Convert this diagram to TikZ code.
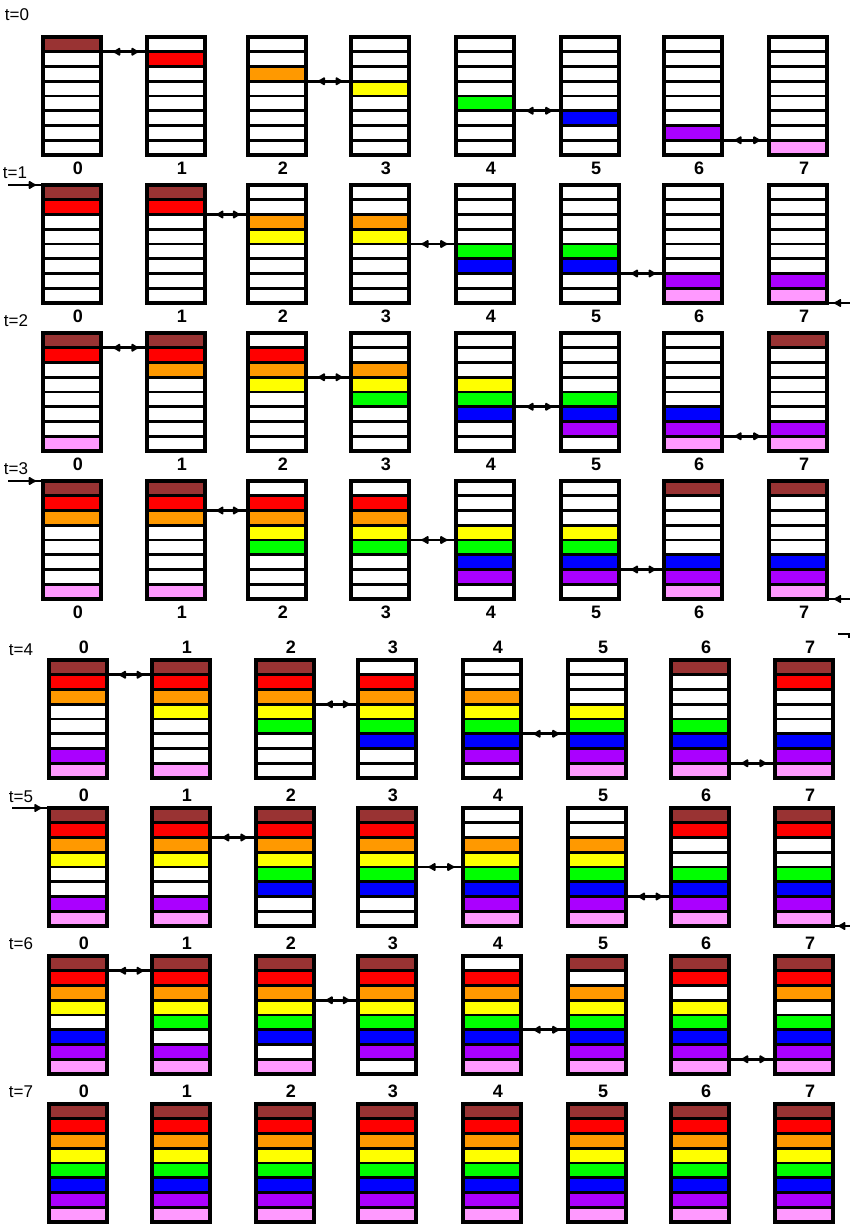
\documentclass[tikz,border=0pt]{standalone}
\usepackage{fontspec}
\setmainfont{Liberation Sans}
\usetikzlibrary{decorations.markings,arrows.meta}
\definecolor{col0}{HTML}{993333}
\definecolor{col1}{HTML}{FF0000}
\definecolor{col2}{HTML}{FF9900}
\definecolor{col3}{HTML}{FFFF00}
\definecolor{col4}{HTML}{00FF00}
\definecolor{col5}{HTML}{0000FF}
\definecolor{col6}{HTML}{AA00FF}
\definecolor{col7}{HTML}{FF99FF}
\tikzset{
  cell/.style={draw=black, line width=2.6pt, minimum width=58pt, minimum height=14.75pt,
    inner sep=0pt, outer sep=0pt, anchor=north west},
  frame/.style={draw=black, line width=3.6pt},
  conn/.style={line width=2.6pt, postaction={decorate},
    decoration={markings,
      mark=at position 0.26 with {\arrowreversed{Latex[length=9pt,width=10pt,round]}},
      mark=at position 0.82 with {\arrow{Latex[length=9pt,width=10pt,round]}}}},
  wrapl/.style={line width=2.6pt, postaction={decorate},
    decoration={markings, mark=at position 0.8 with {\arrow{Latex[length=9pt,width=10pt,round]}}}},
  wrapr/.style={line width=2.6pt, postaction={decorate},
    decoration={markings, mark=at position 0.3 with {\arrowreversed{Latex[length=9pt,width=10pt,round]}}}},
  numlab/.style={font=\fontsize{18}{18}\selectfont\bfseries, inner sep=0pt},
  tlab/.style={font=\fontsize{17}{17}\selectfont, inner sep=0pt},
}
\newcommand\drawrow[4]{%
  \foreach \c/\mask in {#4} {%
    \pgfmathsetmacro\xl{{#3}[\c]}%
    \foreach \k in {0,...,7} {%
      \pgfmathtruncatemacro\on{mod(floor(\mask/2^\k),2)}%
      \ifnum\on=1 \def\fc{col\k}\else\def\fc{white}\fi
      \node[cell, fill=\fc] (r#1-\c-\k) at (\xl, #2+\k*14.75) {};
    }%
    \draw[frame] (r#1-\c-0.north west) rectangle (r#1-\c-7.south east);
  }%
}
\def\xtop{43,147,248,351,456,561,664,769}
\def\xbot{49,152,256,358,463,568,671,775}
\begin{document}
\begin{tikzpicture}[x=1pt, y=-1pt]
\fill[white] (0,0) rectangle (850,1224);
\useasboundingbox (0,0) rectangle (850,1224);
% rows
\drawrow{0}{37}{\xtop}{0/1,1/2,2/4,3/8,4/16,5/32,6/64,7/128}
\drawrow{1}{185}{\xtop}{0/3,1/3,2/12,3/12,4/48,5/48,6/192,7/192}
\drawrow{2}{333}{\xtop}{0/131,1/7,2/14,3/28,4/56,5/112,6/224,7/193}
\drawrow{3}{481}{\xtop}{0/135,1/135,2/30,3/30,4/120,5/120,6/225,7/225}
\drawrow{4}{660}{\xbot}{0/199,1/143,2/31,3/62,4/124,5/248,6/241,7/227}
\drawrow{5}{808}{\xbot}{0/207,1/207,2/63,3/63,4/252,5/252,6/243,7/243}
\drawrow{6}{956}{\xbot}{0/239,1/223,2/191,3/127,4/254,5/253,6/251,7/247}
\drawrow{7}{1104}{\xbot}{0/255,1/255,2/255,3/255,4/255,5/255,6/255,7/255}
% exchanges
\foreach \t in {0,2,4,6} {
  \foreach \a in {0,2,4,6} {
    \pgfmathtruncatemacro\b{\a+1}
    \draw[conn] (r\t-\a-\a.south east) -- (r\t-\b-\b.north west);
  }
}
\foreach \t in {1,3,5} {
  \foreach \a in {1,3,5} {
    \pgfmathtruncatemacro\b{\a+1}
    \draw[conn] (r\t-\a-\a.south east) -- (r\t-\b-\b.north west);
  }
}
% wrap-around exchanges
\coordinate (wl1) at (8,185);  \coordinate (wr1) at (850,303);
\coordinate (wl3) at (8,481);  \coordinate (wr3) at (850,599);
\coordinate (wl5) at (12,808); \coordinate (wr5) at (850,926);
\foreach \t in {1,3,5} {
  \draw[wrapl] (wl\t) -- (r\t-0-0.north west);
  \draw[wrapr] (r\t-7-7.south east) -- (wr\t);
}
\coordinate (m1) at (838,634); \coordinate (m2) at (849,634);
\draw[line width=1.8pt] (m1) -- (m2) -- ++(0,4);
% column numbers
\foreach \t/\y in {0/168,1/316,2/464,3/612} {
  \foreach \c in {0,...,7} {
    \pgfmathsetmacro\xc{{\xtop}[\c]+35}
    \node[numlab] (n\t-\c) at (\xc,\y) {\c};
  }
}
\foreach \t/\y in {4/647,5/795,6/943,7/1091} {
  \foreach \c in {0,...,7} {
    \pgfmathsetmacro\xc{{\xbot}[\c]+35}
    \node[numlab] (n\t-\c) at (\xc,\y) {\c};
  }
}
% time labels
\node[tlab] (t0) at (17,15) {t=0};
\node[tlab] (t1) at (15,173) {t=1};
\node[tlab] (t2) at (16,321) {t=2};
\node[tlab] (t3) at (16,469) {t=3};
\node[tlab] (t4) at (21,650) {t=4};
\node[tlab] (t5) at (21,797) {t=5};
\node[tlab] (t6) at (21,944) {t=6};
\node[tlab] (t7) at (21,1092) {t=7};
\end{tikzpicture}
\end{document}
